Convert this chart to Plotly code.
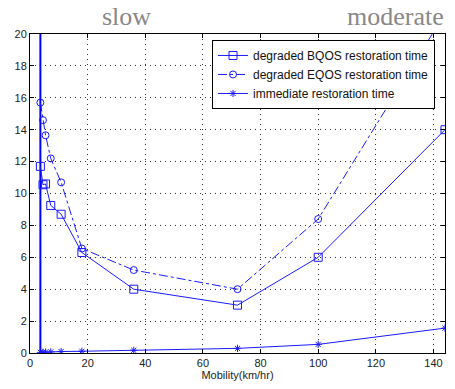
import plotly.graph_objects as go

mobility = [3.6, 4.5, 5.4, 7.2, 10.8, 18, 36, 72, 100, 144]
bqos = [11.7, 10.55, 10.6, 9.25, 8.7, 6.3, 4.0, 3.0, 6.0, 14.0]
eqos = [15.7, 14.6, 13.65, 12.2, 10.7, 6.55, 5.2, 4.0, 8.4, 21.3]
immediate = [0.04, 0.05, 0.06, 0.07, 0.09, 0.11, 0.17, 0.29, 0.54, 1.56]
vline_x = [3.6, 3.6]
vline_y = [0, 25]

xticks = [0, 20, 40, 60, 80, 100, 120, 140]
yticks = [0, 2, 4, 6, 8, 10, 12, 14, 16, 18, 20]

blue = "#1a1aff"
fig = go.Figure()
fig.add_trace(go.Scatter(x=vline_x, y=vline_y, mode="lines",
                         line=dict(color="#0000ff", width=2), showlegend=False))
fig.add_trace(go.Scatter(x=mobility, y=bqos, mode="lines+markers",
                         name="degraded BQOS restoration time",
                         line=dict(color=blue, width=1),
                         marker=dict(symbol="square-open", size=8, color=blue, line=dict(width=1))))
fig.add_trace(go.Scatter(x=mobility, y=eqos, mode="lines+markers",
                         name="degraded EQOS restoration time",
                         line=dict(color=blue, width=1, dash="dashdot"),
                         marker=dict(symbol="circle-open", size=7, color=blue, line=dict(width=1))))
fig.add_trace(go.Scatter(x=mobility, y=immediate, mode="lines+markers",
                         name="immediate restoration time",
                         line=dict(color=blue, width=1),
                         marker=dict(symbol="asterisk-open", size=6, color=blue, line=dict(width=1))))

tick_font = dict(family="Liberation Sans, Arial", size=11, color="#222")
axis_common = dict(showline=True, linecolor="black", linewidth=1, mirror="ticks",
                   ticks="inside", ticklen=4, tickcolor="black",
                   showgrid=True, gridcolor="#333", griddash="1px,4px", gridwidth=1,
                   zeroline=False, tickfont=tick_font)
fig.update_xaxes(range=[0, 144], tickvals=xticks, **axis_common,
                 title=dict(text="Mobility(km/hr)", font=tick_font, standoff=3))
fig.update_yaxes(range=[0, 20], tickvals=yticks, **axis_common)

title_font = dict(family="Liberation Serif, Times New Roman", size=26, color="#888")
fig.add_annotation(text="slow", x=(127 - 30) / 416, y=(355 - 16) / 321, xref="paper", yref="paper",
                   showarrow=False, xanchor="center", yanchor="middle", font=title_font)
fig.add_annotation(text="moderate", x=(396 - 30) / 416, y=(355 - 16) / 321, xref="paper", yref="paper",
                   showarrow=False, xanchor="center", yanchor="middle", font=title_font)

fig.update_layout(
    width=455, height=389,
    margin=dict(l=30, r=9, t=34, b=34),
    plot_bgcolor="white", paper_bgcolor="white",
    legend=dict(x=(436 - 30) / 416, y=(355 - 40) / 321, xanchor="right", yanchor="top",
                bgcolor="white", bordercolor="black", borderwidth=1,
                font=dict(family="Liberation Sans, Arial", size=12, color="#111"),
                tracegroupgap=0, itemwidth=30),
)
fig.write_html("out.html", config={"displayModeBar": False},
               post_script="document.body.style.margin='0';document.body.style.overflow='hidden';")
